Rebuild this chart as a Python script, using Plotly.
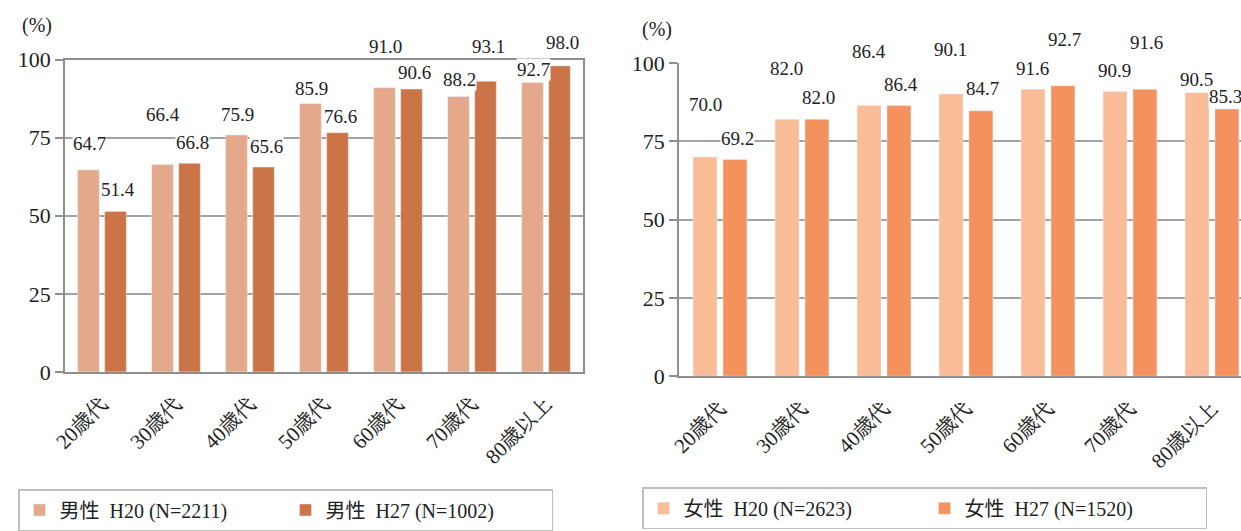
import plotly.graph_objects as go

# ---------------- data ----------------
categories = ["20歳代", "30歳代", "40歳代", "50歳代", "60歳代", "70歳代", "80歳以上"]
male_h20 = [64.7, 66.4, 75.9, 85.9, 91.0, 88.2, 92.7]
male_h27 = [51.4, 66.8, 65.6, 76.6, 90.6, 93.1, 98.0]
female_h20 = [70.0, 82.0, 86.4, 90.1, 91.6, 90.9, 90.5]
female_h27 = [69.2, 82.0, 86.4, 84.7, 92.7, 91.6, 85.3]
y_ticks = [0, 25, 50, 75, 100]
name_m20 = "男性  H20 (N=2211)"
name_m27 = "男性  H27 (N=1002)"
name_f20 = "女性  H20 (N=2623)"
name_f27 = "女性  H27 (N=1520)"

# ---------------- style ----------------
FONT = "Liberation Serif, BIZ UDMincho, Noto Sans CJK JP, serif"
FONT_LEG = "Liberation Serif, Noto Sans CJK JP, serif"
C_M20, C_M27 = "#E4A98A", "#CB7448"
C_F20, C_F27 = "#FBBC98", "#F5915C"
GRID = "#A3A3A3"
AXIS = "#8E8E8E"
TXT = "#222222"
# pixel lift of each data label above its bar top (label placement style)
lift_m20 = [26, 50, 20, 15, 41, 17, 13]
lift_m27 = [22, 21, 21, 16, 17, 35, 23]
lift_f20 = [52, 51, 54, 44, 21, 21, 13]
lift_f27 = [21, 22, 21, 22, 46, 47, 12]
nudge_f27 = [0, 0, 0, 0, 0, 0, -3]

W, H = 1241, 531


def fx(p):
    return p / W


def fy(p):
    return 1 - p / H


fig = go.Figure()
fig.add_bar(x=categories, y=male_h20, name=name_m20, marker_color=C_M20,
            xaxis="x", yaxis="y", legend="legend")
fig.add_bar(x=categories, y=male_h27, name=name_m27, marker_color=C_M27,
            xaxis="x", yaxis="y", legend="legend")
fig.add_bar(x=categories, y=female_h20, name=name_f20, marker_color=C_F20,
            xaxis="x2", yaxis="y2", legend="legend2")
fig.add_bar(x=categories, y=female_h27, name=name_f27, marker_color=C_F27,
            xaxis="x2", yaxis="y2", legend="legend2")

annotations = []


def add_labels(vals, lifts, xref, yref, xshift, nudges=None):
    nudges = nudges or [0] * len(vals)
    for c, v, l, n in zip(categories, vals, lifts, nudges):
        annotations.append(dict(
            x=c, y=v, xref=xref, yref=yref, text=f"{v:.1f}", showarrow=False,
            xshift=xshift + n, yshift=l, yanchor="middle", xanchor="center",
            bgcolor="white", borderpad=0,
            font=dict(family=FONT, size=19, color=TXT)))


add_labels(male_h20, lift_m20, "x", "y", -13)
add_labels(male_h27, lift_m27, "x", "y", 16)
add_labels(female_h20, lift_f20, "x2", "y2", -15)
add_labels(female_h27, lift_f27, "x2", "y2", 17, nudge_f27)

annotations.append(dict(text="(%)", x=fx(37), y=fy(26), xref="paper", yref="paper",
                        xanchor="center", yanchor="middle",
                        showarrow=False, font=dict(family=FONT, size=20, color=TXT)))
annotations.append(dict(text="(%)", x=fx(657), y=fy(30), xref="paper", yref="paper",
                        xanchor="center", yanchor="middle",
                        showarrow=False, font=dict(family=FONT, size=20, color=TXT)))

xcommon = dict(type="category", showgrid=False, showline=True, linecolor=AXIS, linewidth=1.5,
               ticks="", tickangle=-45, automargin=False, ticklabelstandoff=10,
               tickfont=dict(family=FONT, size=21, color=TXT))
ycommon = dict(range=[0, 100], tickvals=y_ticks, showgrid=True, gridcolor=GRID, gridwidth=1.5,
               showline=True, linecolor=AXIS, linewidth=1.5, ticks="outside", ticklen=8,
               tickcolor=AXIS, tickwidth=1.5, automargin=False, zeroline=False,
               tickfont=dict(family=FONT, size=22, color=TXT))

fig.update_layout(
    width=W, height=H,
    margin=dict(l=0, r=0, t=0, b=0),
    font=dict(family=FONT),
    paper_bgcolor="white", plot_bgcolor="white",
    barmode="group", bargap=0.27, bargroupgap=0.2,
    xaxis=dict(**xcommon, domain=[fx(65), fx(583)], anchor="y", mirror=True, range=[-0.5, 6.5]),
    yaxis=dict(**ycommon, domain=[fy(374), fy(60)], anchor="x", mirror=True),
    xaxis2=dict(**xcommon, domain=[fx(679), 1.0], anchor="y2", range=[-0.5, 6.354]),
    yaxis2=dict(**ycommon, domain=[fy(378.3), fy(63.3)], anchor="x2"),
    legend=dict(orientation="h", x=fx(18), y=fy(492), xanchor="left", yanchor="top",
                bordercolor="#BFBFBF", borderwidth=1.5, entrywidth=221, entrywidthmode="pixels",
                font=dict(family=FONT_LEG, size=20, color=TXT), traceorder="normal"),
    legend2=dict(orientation="h", x=fx(642), y=fy(490), xanchor="left", yanchor="top",
                 bordercolor="#BFBFBF", borderwidth=1.5, entrywidth=236, entrywidthmode="pixels",
                 font=dict(family=FONT_LEG, size=20, color=TXT), traceorder="normal"),
    annotations=annotations,
    showlegend=True,
)

fig.write_html("out.html", config={"displayModeBar": False},
               post_script="document.body.style.margin='0';document.body.style.overflow='hidden';")
